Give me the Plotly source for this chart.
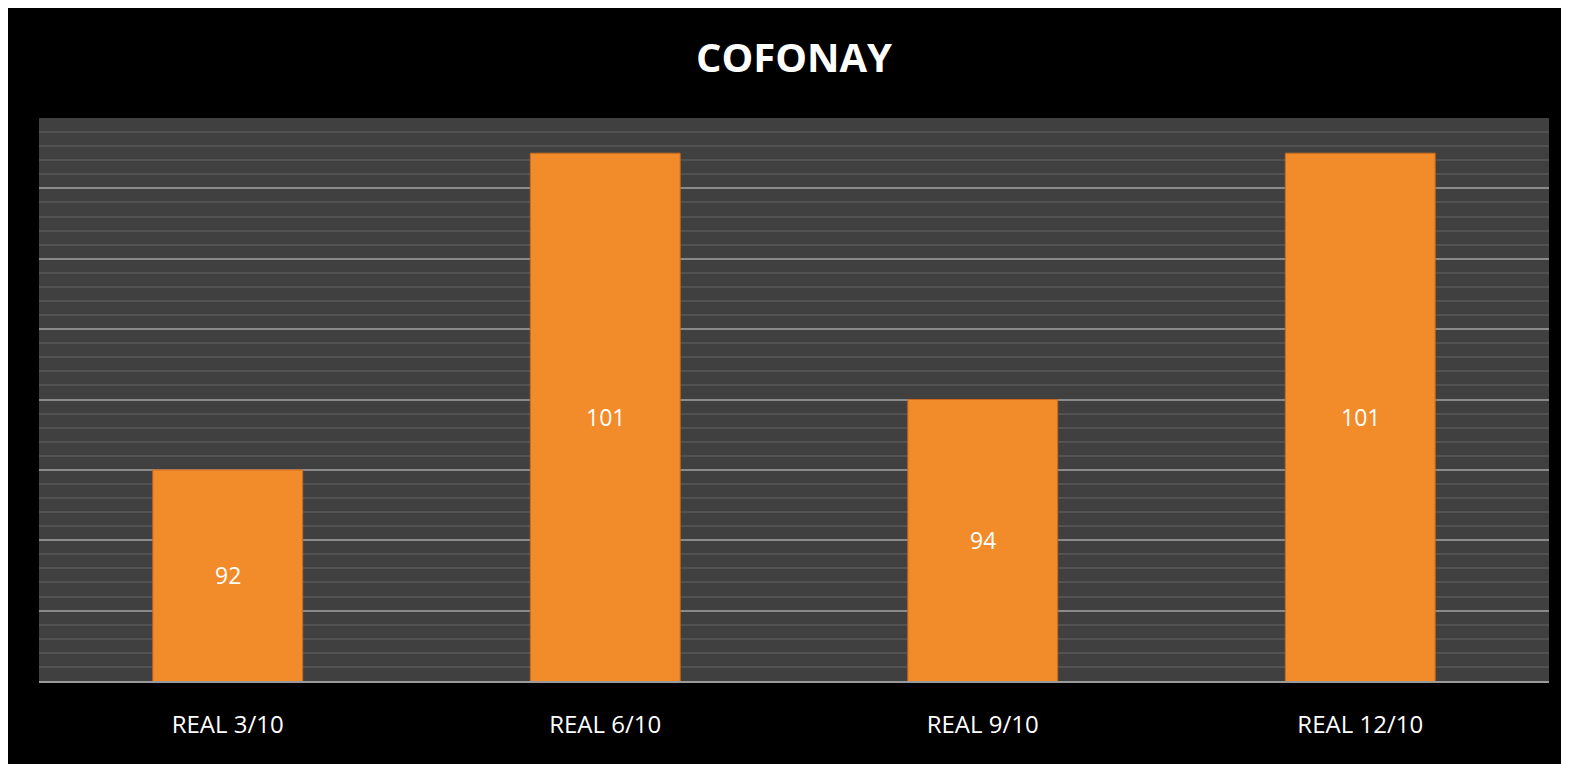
import plotly.graph_objects as go

# 数据
categories = ["REAL 3/10", "REAL 6/10", "REAL 9/10", "REAL 12/10"]
values = [92, 101, 94, 101]
title_text = "COFONAY"
y_min, y_max = 86, 102

# 页面 body 默认有 8px 外边距，图表整体向右下偏移
W, H = 1561, 756
ML, MR, MT, MB = 31, 20, 110, 83

fig = go.Figure()

fig.add_trace(
    go.Bar(
        x=categories,
        y=values,
        marker=dict(color="#F28B2A", line=dict(color="#C96A1C", width=1)),
        hoverinfo="x+y",
    )
)

# 数值标签放在可见柱段的中间
for cat, v in zip(categories, values):
    fig.add_annotation(
        x=cat,
        y=(y_min + v) / 2,
        text=str(v),
        showarrow=False,
        font=dict(family="Open Sans", size=23, color="white"),
    )

fig.update_layout(
    width=W,
    height=H,
    margin=dict(l=ML, r=MR, t=MT, b=MB),
    paper_bgcolor="black",
    plot_bgcolor="#404040",
    bargap=0.603,
    showlegend=False,
    title=dict(
        text=f"<b>{title_text}</b>",
        x=(ML + (W - ML - MR) / 2) / W,
        xanchor="center",
        y=1 - 50 / H,
        yanchor="middle",
        font=dict(family="Open Sans", size=40, color="white"),
    ),
    xaxis=dict(
        showgrid=False,
        showline=True,
        linecolor="#9a9a9a",
        linewidth=2,
        ticks="",
        ticklabelstandoff=21,
        tickfont=dict(family="Open Sans", size=24, color="white"),
    ),
    yaxis=dict(
        range=[y_min, y_max],
        tick0=y_min,
        dtick=2,
        showticklabels=False,
        showgrid=True,
        gridcolor="#8a8a8a",
        gridwidth=2,
        zeroline=False,
        showline=False,
        minor=dict(tick0=y_min, dtick=0.4, showgrid=True, gridcolor="#525252", gridwidth=2),
    ),
)

fig.write_html("out.html")
